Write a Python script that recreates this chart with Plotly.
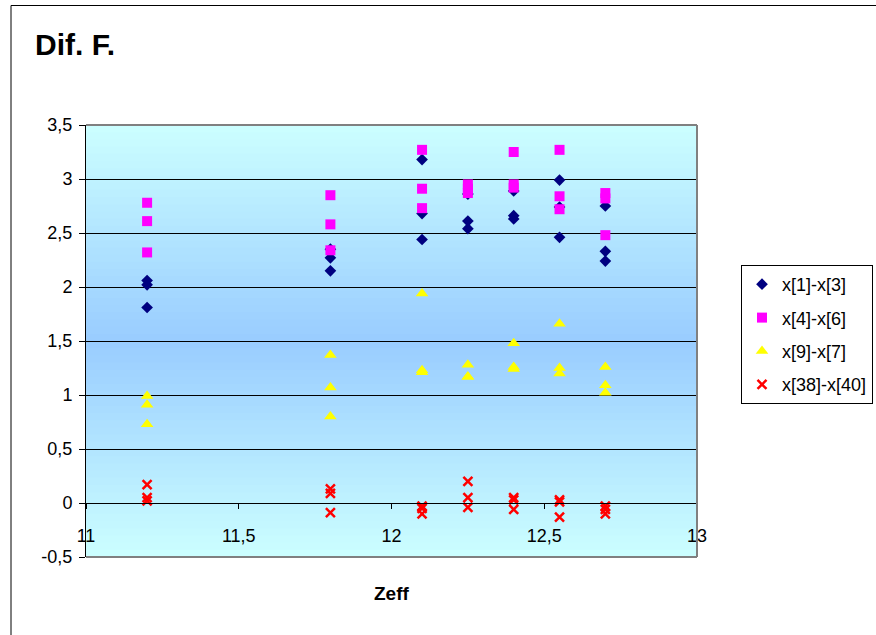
import plotly.graph_objects as go

# ---- data ----
zeff_groups = [11.2, 11.8, 12.1, 12.25, 12.4, 12.55, 12.7]

s1_name = "x[1]-x[3]"
s1_vals = [[2.06, 2.02, 1.81], [2.35, 2.27, 2.15], [3.18, 2.68, 2.44],
           [2.61, 2.54, 2.86], [2.89, 2.66, 2.63], [2.99, 2.74, 2.46],
           [2.75, 2.33, 2.24]]
s2_name = "x[4]-x[6]"
s2_vals = [[2.78, 2.61, 2.32], [2.85, 2.58, 2.34], [3.27, 2.91, 2.73],
           [2.95, 2.91, 2.87], [3.25, 2.95, 2.92], [3.27, 2.84, 2.72],
           [2.87, 2.82, 2.48]]
s3_name = "x[9]-x[7]"
s3_vals = [[0.99, 0.91, 0.73], [1.37, 1.07, 0.80], [1.94, 1.23, 1.21],
           [1.28, 1.17, 1.17], [1.48, 1.26, 1.24], [1.66, 1.25, 1.20],
           [1.26, 1.09, 1.02]]
s4_name = "x[38]-x[40]"
s4_vals = [[0.17, 0.05, 0.02], [0.13, 0.09, -0.09], [-0.03, -0.05, -0.10],
           [0.20, 0.05, -0.04], [0.05, 0.03, -0.06], [0.03, 0.01, -0.13],
           [-0.03, -0.06, -0.10]]

x_tickvals = [11, 11.5, 12, 12.5, 13]
x_ticktext = ["11", "11,5", "12", "12,5", "13"]
y_tickvals = [-0.5, 0, 0.5, 1, 1.5, 2, 2.5, 3, 3.5]
y_ticktext = ["-0,5", "0", "0,5", "1", "1,5", "2", "2,5", "3", "3,5"]

title_text = "Dif. F."
x_title = "Zeff"


def flatten(groups, vals):
    xs, ys = [], []
    for g, vs in zip(groups, vals):
        for v in vs:
            xs.append(g)
            ys.append(v)
    return xs, ys


FONT = "Liberation Sans, Arial, sans-serif"
fig = go.Figure()

series = [
    (s1_name, s1_vals, dict(symbol="diamond", size=9, color="#000080")),
    (s2_name, s2_vals, dict(symbol="square", size=10, color="#FF00FF")),
    (s3_name, s3_vals, dict(symbol="triangle-up", size=11, color="#FFFF00")),
    (s4_name, s4_vals, dict(symbol="x-thin", size=9, color="#FF0000",
                            line=dict(color="#FF0000", width=2.5))),
]
for i, (name, vals, mk) in enumerate(series):
    xs, ys = flatten(zeff_groups, vals)
    fig.add_trace(go.Scatter(x=xs, y=ys, mode="markers", name=name,
                             marker=mk, legendgroup=f"g{i}"))

# plot-area gradient (light cyan at edges, blue at centre)
def mix(c1, c2, t):
    return "rgb(%d,%d,%d)" % tuple(round(a + (b - a) * t) for a, b in zip(c1, c2))

edge = (204, 255, 255)
centre = (153, 204, 255)
n = 60
shapes = []
for k in range(n):
    y0 = k / n
    y1 = (k + 1) / n
    mid = (y0 + y1) / 2
    t = 1 - abs(mid - 0.5) * 2
    shapes.append(dict(type="rect", xref="paper", yref="paper", x0=0, x1=1,
                       y0=y0, y1=y1 + 0.002, line=dict(width=0),
                       fillcolor=mix(edge, centre, t), layer="below"))

# plot area grey border (top, right, bottom)
for (x0, y0, x1, y1) in [(0, 1, 1, 1), (1, 0, 1, 1), (0, 0, 1, 0)]:
    shapes.append(dict(type="line", xref="paper", yref="paper", x0=x0, y0=y0,
                       x1=x1, y1=y1, line=dict(color="#808080", width=2),
                       layer="above"))

# outer chart frame (only left/top visible in the crop)
L, R, T, B = 86, 697, 125, 557
pw, ph = R - L, B - T
def px_x(p):
    return (p - L) / pw
def px_y(p):
    return (B - p) / ph
shapes.append(dict(type="rect", xref="paper", yref="paper",
                   x0=px_x(11), x1=px_x(900), y0=px_y(5.5), y1=px_y(660),
                   line=dict(color="black", width=1), fillcolor="rgba(0,0,0,0)",
                   layer="below"))

fig.update_layout(
    width=876, height=635,
    margin=dict(l=L, r=876 - R, t=T, b=635 - B, autoexpand=False),
    paper_bgcolor="white", plot_bgcolor="rgba(0,0,0,0)",
    font=dict(family=FONT, size=16, color="black"),
    shapes=shapes,
    title=dict(text="<b>" + title_text + "</b>", x=35 / 876,
               xref="container", xanchor="left", yref="container",
               y=1 - 44 / 635, yanchor="middle",
               font=dict(family=FONT, size=30, color="black")),
    xaxis=dict(range=[11, 13], tickvals=x_tickvals, ticktext=x_ticktext,
               showgrid=False, zeroline=False, showline=True, linecolor="black",
               linewidth=1, ticks="outside", ticklen=5, tickcolor="black",
               anchor="free", position=0.125, ticklabelstandoff=11,
               tickfont=dict(family=FONT, size=18)),
    yaxis=dict(range=[-0.5, 3.5], tickvals=y_tickvals, ticktext=y_ticktext,
               showgrid=True, gridcolor="black", gridwidth=1, zeroline=False,
               showline=True, linecolor="black", linewidth=1, ticks="outside",
               ticklen=6, tickcolor="black", tickfont=dict(family=FONT, size=18),
               ticklabelstandoff=3),
    legend=dict(x=px_x(741), y=px_y(265), xanchor="left", yanchor="top",
                bgcolor="white", bordercolor="black", borderwidth=1,
                font=dict(family=FONT, size=18), tracegroupgap=7,
                itemwidth=30),
    annotations=[dict(text="<b>" + x_title + "</b>", xref="paper", yref="paper",
                      x=0.5, y=px_y(593), xanchor="center", yanchor="middle",
                      showarrow=False, font=dict(family=FONT, size=19))],
)

fig.write_html("out.html")
